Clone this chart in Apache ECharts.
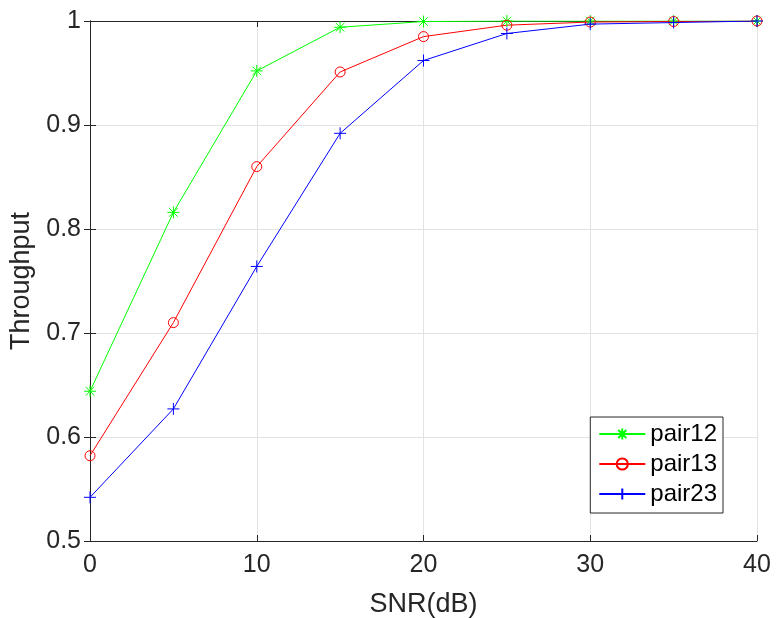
<!DOCTYPE html>
<html><head><meta charset="utf-8">
<script src="https://cdn.jsdelivr.net/npm/echarts@6/dist/echarts.min.js"></script>
<style>html,body{margin:0;padding:0;background:#fff}#c{width:776px;height:618px}</style>
</head><body><div id="c"></div>
<script>
const snr = [0, 5, 10, 15, 20, 25, 30, 35, 40];
const pair12 = [0.644, 0.816, 0.952, 0.994, 0.9995, 1.0, 1.0, 1.0, 1.0];
const pair13 = [0.582, 0.710, 0.860, 0.951, 0.985, 0.996, 0.999, 0.9995, 1.0];
const pair23 = [0.542, 0.627, 0.764, 0.892, 0.962, 0.988, 0.997, 0.9985, 1.0];
const xTicks = [0, 10, 20, 30, 40];
const yTicks = [0.5, 0.6, 0.7, 0.8, 0.9, 1];

const FONT = 'Liberation Sans, Arial, Helvetica, sans-serif';
const AX = '#262626';
const asterisk = 'path://M0,-6L0,6M-6,0L6,0M-4.3,-4.3L4.3,4.3M-4.3,4.3L4.3,-4.3';
const plus = 'path://M0,-6L0,6M-6,0L6,0';

function mk(name, data, color, symbol, size) {
  return {
    name, type: 'line', data: snr.map((x, i) => [x, data[i]]),
    symbol, symbolSize: size, showAllSymbol: true,
    lineStyle: { color, width: 1 },
    itemStyle: { color: 'rgba(0,0,0,0)', borderColor: color, borderWidth: 1 },
    emphasis: { disabled: true }, animation: false, z: 3
  };
}

const chart = echarts.init(document.getElementById('c'));
chart.setOption({
  animation: false,
  backgroundColor: '#fff',
  textStyle: { fontFamily: FONT },
  grid: { left: 90, top: 21, right: 19, bottom: 77, containLabel: false, outerBoundsMode: 'none' },
  legend: {
    right: 53, top: 417, orient: 'vertical',
    backgroundColor: '#fff', borderColor: AX, borderWidth: 1, borderRadius: 0,
    padding: [5, 6, 7, 8], itemGap: 6, itemWidth: 46, itemHeight: 14,
    textStyle: { fontSize: 24, color: '#000', fontFamily: FONT },
    data: ['pair12', 'pair13', 'pair23']
  },
  xAxis: [{
    type: 'value', min: 0, max: 40, interval: 10,
    name: 'SNR(dB)', nameLocation: 'middle', nameGap: 50,
    nameTextStyle: { fontSize: 27, color: AX, fontFamily: FONT },
    axisLine: { show: true, lineStyle: { color: AX, width: 1 } },
    axisTick: { show: true, inside: true, length: 6, lineStyle: { color: AX } },
    axisLabel: { fontSize: 25, color: AX, margin: 12, fontFamily: FONT },
    splitLine: { show: true, lineStyle: { color: '#e3e3e3', width: 1 } }
  }, {
    type: 'value', min: 0, max: 40, interval: 10, position: 'top',
    axisLine: { show: true, lineStyle: { color: AX, width: 1 } },
    axisTick: { show: true, inside: true, length: 6, lineStyle: { color: AX } },
    axisLabel: { show: false }, splitLine: { show: false }
  }],
  yAxis: [{
    type: 'value', min: 0.5, max: 1, interval: 0.1,
    name: 'Throughput', nameLocation: 'middle', nameGap: 52, nameRotate: 90,
    nameTextStyle: { fontSize: 27, color: AX, fontFamily: FONT },
    axisLine: { show: true, lineStyle: { color: AX, width: 1 } },
    axisTick: { show: true, inside: true, length: 6, lineStyle: { color: AX } },
    axisLabel: { fontSize: 25, color: AX, margin: 9, fontFamily: FONT,
      formatter: v => (Math.abs(v - 1) < 1e-9 ? '1' : v.toFixed(1)) },
    splitLine: { show: true, lineStyle: { color: '#e3e3e3', width: 1 } }
  }, {
    type: 'value', min: 0.5, max: 1, interval: 0.1, position: 'right',
    axisLine: { show: true, lineStyle: { color: AX, width: 1 } },
    axisTick: { show: true, inside: true, length: 6, lineStyle: { color: AX } },
    axisLabel: { show: false }, splitLine: { show: false }
  }],
  series: [
    mk('pair12', pair12, '#00ff00', asterisk, 12),
    mk('pair13', pair13, '#ff0000', 'circle', 10),
    mk('pair23', pair23, '#0000ff', plus, 12)
  ]
});
</script></body></html>
